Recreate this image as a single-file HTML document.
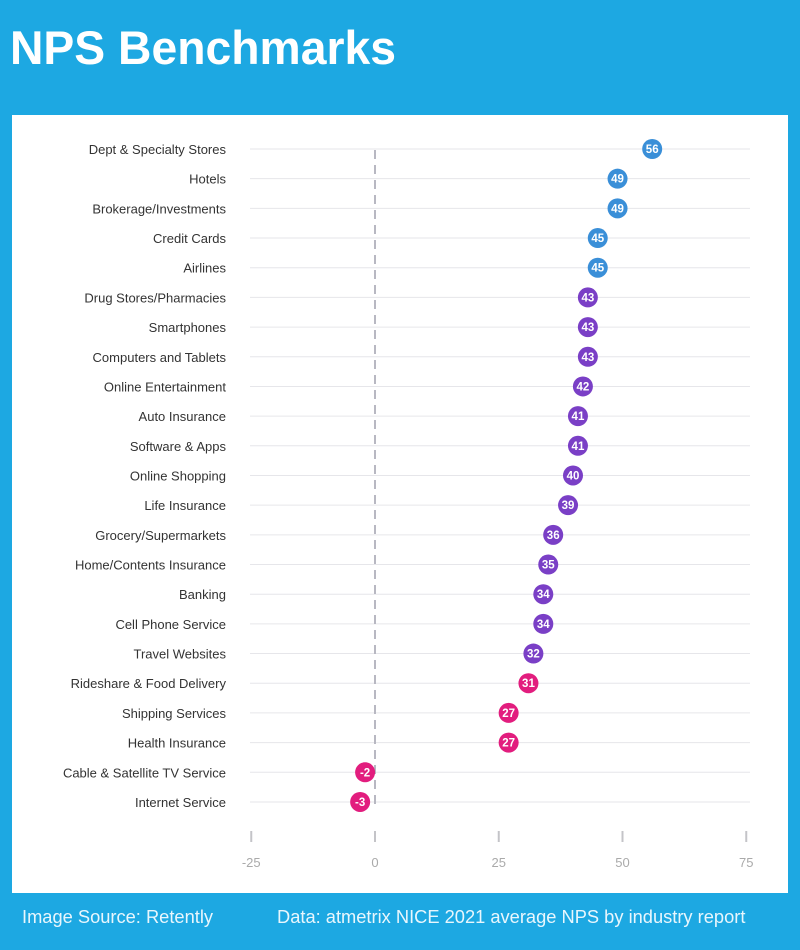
<!DOCTYPE html>
<html><head><meta charset="utf-8"><style>
html,body{margin:0;padding:0;}
body{width:800px;height:950px;background:#1da8e2;position:relative;overflow:hidden;font-family:"Liberation Sans",sans-serif;}
#title{position:absolute;left:10px;top:20px;color:#fff;font-size:47px;font-weight:bold;transform:scaleX(0.985);transform-origin:left top;}
#panel{position:absolute;left:12px;top:115px;width:776px;height:778px;background:#fff;}
.foot{position:absolute;top:906px;color:#e8f6fd;font-size:18.3px;}
</style></head><body>
<div id="title">NPS Benchmarks</div>
<div id="panel"></div>
<svg id="chart" width="800" height="950" style="position:absolute;left:0;top:0"></svg>
<div class="foot" style="left:22px">Image Source: Retently</div>
<div class="foot" style="left:277px">Data: atmetrix NICE 2021 average NPS by industry report</div>
<script>
const categories=["Dept & Specialty Stores","Hotels","Brokerage/Investments","Credit Cards","Airlines","Drug Stores/Pharmacies","Smartphones","Computers and Tablets","Online Entertainment","Auto Insurance","Software & Apps","Online Shopping","Life Insurance","Grocery/Supermarkets","Home/Contents Insurance","Banking","Cell Phone Service","Travel Websites","Rideshare & Food Delivery","Shipping Services","Health Insurance","Cable & Satellite TV Service","Internet Service"];
const values=[56,49,49,45,45,43,43,43,42,41,41,40,39,36,35,34,34,32,31,27,27,-2,-3];
const ticks=[-25,0,25,50,75];
const NS="http://www.w3.org/2000/svg";
const svg=document.getElementById('chart');
const x=v=>375+v*4.95;
const y=i=>149+i*29.68;
function mk(t,a){const e=document.createElementNS(NS,t);for(const k in a)e.setAttribute(k,a[k]);svg.appendChild(e);return e;}
function color(v){return v>=45?'#3a8fd8':(v>=32?'#7a3fc6':'#e21d7e');}
categories.forEach((c,i)=>{
 const g=mk('line',{x1:250,x2:750,y1:y(i),y2:y(i),stroke:'#e6e6ea','stroke-width':1});
 
 
 const t=mk('text',{x:226,y:y(i)+5,'text-anchor':'end','font-size':13,fill:'#333','font-family':'Liberation Sans, sans-serif'});
 t.textContent=c;
 
 
});
const z=mk('line',{x1:x(0),x2:x(0),y1:150,y2:806,stroke:'#b8b8c2','stroke-width':2,'stroke-dasharray':'9,6'});


ticks.forEach(v=>{
 const l=mk('line',{x1:x(v),x2:x(v),y1:831,y2:842,stroke:'#c4c4c8','stroke-width':2});
 
 
 const t=mk('text',{x:x(v),y:867,'text-anchor':'middle','font-size':13,fill:'#aaa','font-family':'Liberation Sans, sans-serif'});
 t.textContent=v;
 
 
});
values.forEach((v,i)=>{
 const c=mk('circle',{cx:x(v),cy:y(i),r:10,fill:color(v)});
 
 
 const t=mk('text',{x:x(v),y:y(i)+4,'text-anchor':'middle','font-size':11.5,'font-weight':'bold',fill:'#fff','font-family':'Liberation Sans, sans-serif'});
 t.textContent=v;
 
 
});
</script>
</body></html>
